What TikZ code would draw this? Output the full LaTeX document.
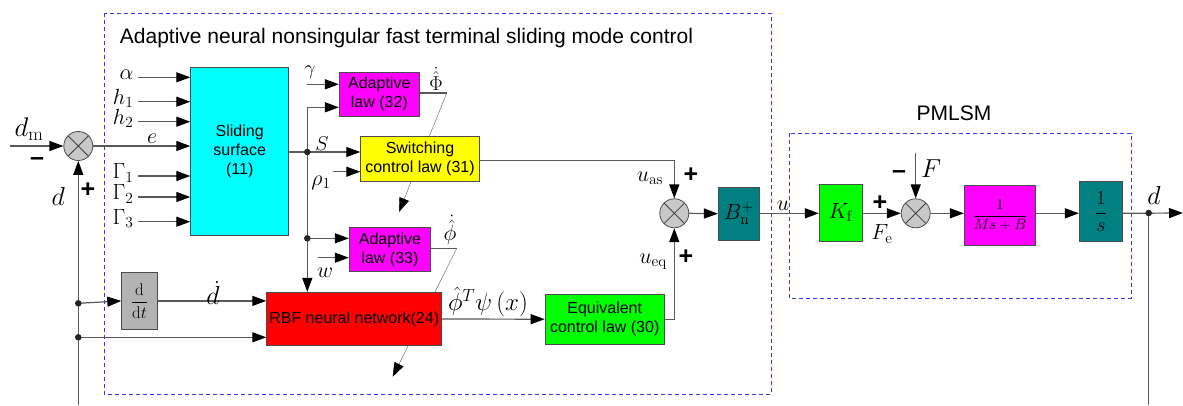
\RequirePackage{fix-cm}
\documentclass[tikz,border=0pt]{standalone}
\usepackage{amsmath,amssymb}
\usepackage[no-math]{fontspec}
\setmainfont{Liberation Sans}
\usepackage{xcolor}
\usepackage{tikz}
\usetikzlibrary{arrows.meta,backgrounds}
\definecolor{blkcyan}{HTML}{00FFFF}
\definecolor{blkmag}{HTML}{FF00FF}
\definecolor{blkyel}{HTML}{FFFF00}
\definecolor{blkred}{HTML}{FF0000}
\definecolor{blkgrn}{HTML}{00FF00}
\definecolor{blkteal}{HTML}{008080}
\definecolor{blkgray}{HTML}{B3B3B3}
\definecolor{sumgray}{HTML}{C8C8C8}
\definecolor{frameblue}{HTML}{3333FF}
\newcommand{\lblfont}{\fontsize{22}{24}\selectfont}
\newcommand{\bigfont}{\fontsize{26}{28}\selectfont}
\newcommand{\txtfont}{\fontsize{16}{19}\selectfont}
\newcommand{\sgn}[1]{{\fontsize{25}{27}\selectfont\bfseries #1}}

\begin{document}
\begin{tikzpicture}[x=1pt, y=-1pt, line width=1.2pt,
  blk/.style={draw=black!70, line width=0.8pt, inner sep=0pt, align=center, font=\txtfont},
  sumj/.style={circle, draw=black!70, line width=0.8pt, fill=sumgray, minimum size=29pt, inner sep=0pt,
    path picture={\draw[black!75, line width=0.8pt]
      (path picture bounding box.south west) -- (path picture bounding box.north east)
      (path picture bounding box.north west) -- (path picture bounding box.south east);}},
  sig/.style={draw=black!65, -{Triangle[length=14pt, width=10pt, color=black]}},
  wire/.style={draw=black!65},
  lbl/.style={font=\lblfont, inner sep=0pt},
  frame/.style={draw=frameblue, line width=0.9pt, dash pattern=on 4pt off 3pt}]

  \useasboundingbox (0,0) rectangle (1183,405);

  % -- the two dashed frames and their titles ------------------------------
  \draw[frame] (104,13) rectangle (771,394);
  \draw[frame] (789,133) rectangle (1131,298);
  \node[font=\fontsize{21}{24}\selectfont, anchor=west] (ctrlTitle) at (116,38)
    {Adaptive neural nonsingular fast terminal sliding mode control};
  \node[font=\fontsize{21}{24}\selectfont] (plantTitle) at (954,113) {PMLSM};

  % -- blocks of the controller -------------------------------------------
  \node[blk, fill=blkcyan, minimum width=98pt, minimum height=168pt] (slide) at (239.7,151.5) {Sliding\\surface\\(11)};
  \node[blk, fill=blkmag, minimum width=80pt, minimum height=44.7pt] (law32) at (379.3,94.3) {Adaptive\\law (32)};
  \node[blk, fill=blkyel, minimum width=118.6pt, minimum height=45pt] (swc) at (420,159.2) {Switching\\control law (31)};
  \node[blk, fill=blkmag, minimum width=81.4pt, minimum height=44.4pt] (law33) at (390,249.5) {Adaptive\\law (33)};
  \node[blk, fill=blkred, minimum width=175pt, minimum height=53.4pt] (rbf) at (354.2,319) {RBF neural network(24)};
  \node[blk, fill=blkgrn, minimum width=119.3pt, minimum height=50.3pt] (eqv) at (604.7,319.2) {Equivalent\\control law (30)};
  \node[blk, fill=blkgray, minimum width=35.6pt, minimum height=56.3pt, font=\fontsize{17}{19}\selectfont] (ddt) at (139.5,300.9)
    {$\displaystyle\frac{\mathrm{d}}{\mathrm{d}t}$};
  \node[blk, fill=blkteal, minimum width=41pt, minimum height=52.7pt, font=\lblfont] (bn) at (738.8,213.7) {$B_{\mathrm{n}}^{+}$};

  % -- blocks of the plant ------------------------------------------------
  \node[blk, fill=blkgrn, minimum width=43pt, minimum height=56.7pt, font=\lblfont] (kf) at (840.8,212.7) {$K_{\mathrm{f}}$};
  \node[blk, fill=blkmag, minimum width=71.4pt, minimum height=60.4pt, font=\fontsize{15}{17}\selectfont] (msb) at (1000,215.5)
    {$\displaystyle\frac{1}{Ms+B}$};
  \node[blk, fill=blkteal, minimum width=43.4pt, minimum height=60pt, font=\fontsize{20}{22}\selectfont] (ints) at (1101,211.7)
    {$\displaystyle\frac{1}{s}$};

  % -- summing junctions --------------------------------------------------
  \node[sumj] (sum1) at (78.3,146) {};
  \node[sumj] (sum2) at (674.3,213.3) {};
  \node[sumj] (sum3) at (915.7,213.3) {};

  % -- points where wires start or branch ---------------------------------
  \coordinate (dmIn) at (10,146);
  \coordinate (fbL) at (78.3,405);
  \coordinate (j1) at (78.3,303.3);
  \coordinate (j2) at (78.3,337.3);
  \coordinate (jS) at (307.3,152);
  \coordinate (jW) at (307.3,238.3);
  \coordinate (gamIn) at (307.3,84.3);
  \coordinate (rhoIn) at (333,171.7);
  \coordinate (wIn) at (317.7,257.7);
  \coordinate (phiK) at (446.7,93);
  \coordinate (phiKTip) at (399,212);
  \coordinate (phiS) at (456.7,248.3);
  \coordinate (phiSTip) at (392.7,376.7);
  \coordinate (fIn) at (915.7,152.7);
  \coordinate (dn) at (1148.7,213);
  \coordinate (dOut) at (1183,213);
  \coordinate (fbR) at (1148.7,405);

  % -- the inputs of the sliding surface ----------------------------------
  \foreach \yy/\lab [count=\i] in {77.3/\alpha, 101.7/h_1, 121.7/h_2, 176/\Gamma_1, 197/\Gamma_2, 221.7/\Gamma_3}{
    \coordinate (sin\i) at (137.7,\yy);
    \draw[sig] (sin\i) -- (sin\i -| slide.west);
    \node[lbl, anchor=east] (sinlab\i) at (134,\yy-3) {$\lab$};}

  % -- error and feedback --------------------------------------------------
  \draw[sig] (dmIn) -- (sum1.west);
  \draw[sig] (sum1.east) -- (sum1.east -| slide.west);
  \draw[sig] (fbL) -- (sum1.south);
  \draw[sig] (j1) -- (ddt.west);
  \draw[sig] (ddt.east) -- (ddt.east -| rbf.west);
  \draw[sig] (j2) -- (j2 -| rbf.west);

  % -- the sliding variable and its branches ------------------------------
  \draw[wire] (slide.east |- jS) -- (jS);
  \draw[sig] (jS) -- (jS -| swc.west);
  \draw[sig] (jS) |- ([yshift=-13pt]law32.west);
  \draw[sig] (jS) -- (jS |- rbf.north);
  \draw[sig] (jW) -- (jW -| law33.west);
  \draw[sig] (gamIn) -- (gamIn -| law32.west);
  \draw[sig] (rhoIn) -- (rhoIn -| swc.west);
  \draw[sig] (wIn) -- (wIn -| law33.west);

  % -- adaptive laws tune the blocks they cross ---------------------------
  \draw[wire] (law32.east |- phiK) -- (phiK);
  \draw[wire] (law33.east |- phiS) -- (phiS);
  \begin{scope}[on background layer]
    \draw[sig] (phiK) -- (phiKTip);
    \draw[sig] (phiS) -- (phiSTip);
  \end{scope}

  % -- control signals ------------------------------------------------------
  \draw[sig] (rbf.east) -- (eqv.west);
  \draw[sig] (swc.east |- 0,160.7) -| (sum2.north);
  \draw[sig] (eqv.east) -| (sum2.south);
  \draw[sig] (sum2.east) -- (bn.west);
  \draw[sig] (bn.east |- sum2) -- (kf.west |- sum2);

  % -- plant ----------------------------------------------------------------
  \draw[sig] (kf.east |- sum3) -- (sum3.west);
  \draw[sig] (fIn) -- (sum3.north);
  \draw[sig] (sum3.east) -- (msb.west |- sum3);
  \draw[sig] (msb.east |- sum3) -- (ints.west |- sum3);
  \draw[sig] (ints.east |- sum3) -- (dOut);
  \draw[wire] (dn) -- (fbR);

  % -- branch dots ----------------------------------------------------------
  \foreach \p in {j1,j2,jS,jW,dn}{
    \fill[black!85] (\p) circle (3.3);}

  % -- signal labels --------------------------------------------------------
  \node[lbl, font=\fontsize{27}{29}\selectfont] (dmLab) at (29,129) {$d_{\mathrm{m}}$};
  \node[lbl] (minus1) at (37,162) {\sgn{\textendash}};
  \node[lbl, font=\bigfont] (dLab) at (58.3,196.7) {$d$};
  \node[lbl] (plus1) at (88,190) {\sgn{+}};
  \node[lbl] (eLab) at (152,139) {$e$};
  \node[lbl, font=\fontsize{20}{22}\selectfont] (gamLab) at (310,72) {$\gamma$};
  \node[lbl, font=\fontsize{20}{22}\selectfont] (sLab) at (322,144) {$S$};
  \node[lbl] (rhoLab) at (321,183) {$\rho_1$};
  \node[lbl] (wLab) at (325,273) {$w$};
  \node[lbl, font=\fontsize{20}{22}\selectfont] (phiKLab) at (436,79) {$\dot{\hat{\Phi}}$};
  \node[lbl] (phiSLab) at (450,230) {$\dot{\hat{\phi}}$};
  \node[lbl, font=\bigfont] (dDotLab) at (213,293) {$\dot{d}$};
  \node[lbl, font=\fontsize{25}{27}\selectfont] (rbfOutLab) at (488,302) {$\hat{\phi}^{T}\psi\,(x)$};
  \node[lbl] (uasLab) at (650,178) {$u_{\mathrm{as}}$};
  \node[lbl] (plus2) at (691,175) {\sgn{+}};
  \node[lbl] (ueqLab) at (653,262) {$u_{\mathrm{eq}}$};
  \node[lbl] (plus3) at (686,257) {\sgn{+}};
  \node[lbl] (uLab) at (783,206) {$u$};
  \node[lbl] (plus4) at (880,203) {\sgn{+}};
  \node[lbl] (feLab) at (882,234) {$F_{\mathrm{e}}$};
  \node[lbl] (minus2) at (899,175) {\sgn{\textendash}};
  \node[lbl, font=\bigfont] (fLab) at (931,169) {$F$};
  \node[lbl, font=\bigfont] (dOutLab) at (1154,195) {$d$};

\end{tikzpicture}
\end{document}
